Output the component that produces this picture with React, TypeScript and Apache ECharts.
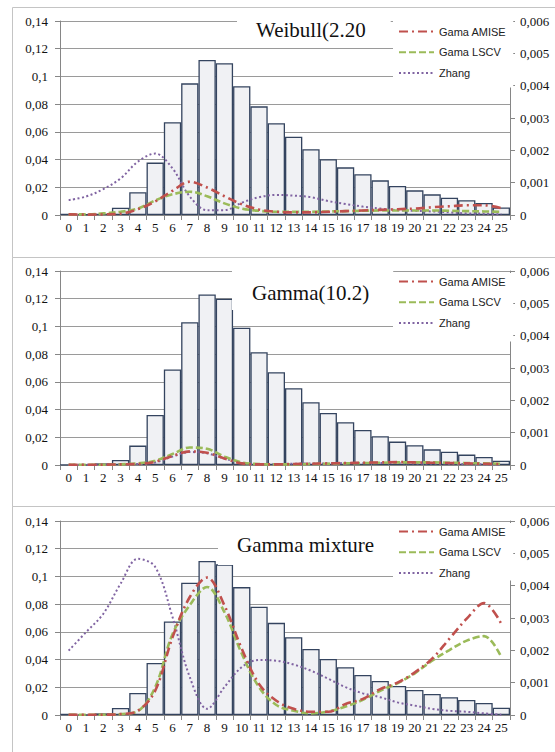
import React, { useEffect, useRef } from "react";
import * as echarts from "echarts";

const categories = ["0","1","2","3","4","5","6","7","8","9","10","11","12","13","14","15","16","17","18","19","20","21","22","23","24","25"];

const panelTitles = ["Weibull(2.20", "Gamma(10.2)", "Gamma mixture"];
const seriesNames = ["Gama AMISE", "Gama LSCV", "Zhang"];
const leftTicks = { min: 0, max: 0.14, interval: 0.02 };
const rightTicks = { min: 0, max: 0.006, interval: 0.001 };

// Panel 1: Weibull(2.20
const weibullBars = [0.0008, 0.0004, 0.0008, 0.0053, 0.0164, 0.0378, 0.0669, 0.095, 0.1119, 0.1095, 0.0929, 0.0784, 0.0662, 0.0565, 0.0474, 0.0402, 0.0344, 0.0294, 0.025, 0.0209, 0.0178, 0.0149, 0.0125, 0.0106, 0.0087, 0.0055];
const weibullAmise = [0.00002, 0.00001, 0.00002, 0.00004, 0.00018, 0.00042, 0.00075, 0.00103, 0.00085, 0.00058, 0.00033, 0.00017, 0.0001, 0.00008, 0.00008, 0.0001, 0.00012, 0.00014, 0.00016, 0.00018, 0.0002, 0.00024, 0.00027, 0.0003, 0.0003, 0.00021];
const weibullLscv = [0.00002, 0.00002, 0.00005, 0.0001, 0.0002, 0.00045, 0.00064, 0.00072, 0.00058, 0.00036, 0.0002, 0.00013, 0.0001, 0.0001, 0.0001, 0.00011, 0.00012, 0.00013, 0.00014, 0.00014, 0.00014, 0.00014, 0.00013, 0.00012, 0.00011, 0.0001];
const weibullZhang = [0.00046, 0.00057, 0.0008, 0.00113, 0.00165, 0.0019, 0.00144, 0.00057, 0.00015, 0.00015, 0.00038, 0.00055, 0.00062, 0.0006, 0.00055, 0.00043, 0.00034, 0.00026, 0.0002, 0.00015, 0.00013, 0.00011, 0.00008, 0.00005, 0.00004, 0.00002];

// Panel 2: Gamma(10.2)
const gammaBars = [0.0003, 0.0002, 0.0012, 0.0036, 0.014, 0.0361, 0.0689, 0.1031, 0.1231, 0.12, 0.099, 0.0814, 0.067, 0.0554, 0.0453, 0.0376, 0.0308, 0.0253, 0.0207, 0.0169, 0.0142, 0.0113, 0.0096, 0.0075, 0.0058, 0.0031];
const gammaAmise = [0.00001, 0.00001, 0.00001, 0.00002, 0.00003, 0.0001, 0.00028, 0.00042, 0.00038, 0.0002, 0.00005, 0.00002, 0.00002, 0.00003, 0.00004, 0.00005, 0.00006, 0.00007, 0.00008, 0.00009, 0.00008, 0.00007, 0.00006, 0.00005, 0.00004, 0.00003];
const gammaLscv = [0.00001, 0.00001, 0.00001, 0.00002, 0.00005, 0.00013, 0.00034, 0.00054, 0.0005, 0.00026, 0.00008, 0.00003, 0.00002, 0.00002, 0.00003, 0.00004, 0.00005, 0.00006, 0.00007, 0.00008, 0.00008, 0.00008, 0.00007, 0.00006, 0.00005, 0.00004];
const gammaZhang = [0.00001, 0.00001, 0.00001, 0.00002, 0.00003, 0.00008, 0.00026, 0.0004, 0.00036, 0.0002, 0.00006, 0.00003, 0.00003, 0.00004, 0.00005, 0.00005, 0.00006, 0.00006, 0.00006, 0.00006, 0.00005, 0.00005, 0.00004, 0.00003, 0.00002, 0.00001];

// Panel 3: Gamma mixture
const mixtureBars = [0.0007, 0.0003, 0.0012, 0.0051, 0.0159, 0.0376, 0.0675, 0.0954, 0.1111, 0.1087, 0.0923, 0.0781, 0.0665, 0.0561, 0.0477, 0.0405, 0.0345, 0.0289, 0.0246, 0.021, 0.0181, 0.0152, 0.0128, 0.0108, 0.0087, 0.0053];
const mixtureAmise = [0.00001, 0.00001, 0.00001, 0.00003, 0.00013, 0.00075, 0.0024, 0.00365, 0.00425, 0.00339, 0.00205, 0.00096, 0.00044, 0.00019, 0.0001, 0.0001, 0.00034, 0.0005, 0.0008, 0.001, 0.00132, 0.00174, 0.00236, 0.00298, 0.00346, 0.00282];
const mixtureLscv = [0.00001, 0.00001, 0.00001, 0.00003, 0.00012, 0.00086, 0.0025, 0.0034, 0.00396, 0.00318, 0.0019, 0.00086, 0.00031, 0.00013, 0.00005, 0.00011, 0.00026, 0.00047, 0.00075, 0.00098, 0.00129, 0.00168, 0.00201, 0.0023, 0.00244, 0.00179];
const mixtureZhang = [0.00199, 0.00256, 0.00313, 0.00406, 0.00483, 0.00458, 0.00303, 0.00117, 0.00019, 0.00086, 0.00148, 0.0017, 0.00168, 0.00156, 0.00137, 0.00112, 0.00086, 0.00067, 0.00055, 0.00039, 0.00029, 0.00019, 0.00013, 0.0001, 0.00005, 0.00001];

const panels = [
  { bars: weibullBars, lines: [weibullAmise, weibullLscv, weibullZhang] },
  { bars: gammaBars, lines: [gammaAmise, gammaLscv, gammaZhang] },
  { bars: mixtureBars, lines: [mixtureAmise, mixtureLscv, mixtureZhang] },
];

const fmt = (v: number) => (v === 0 ? "0" : String(parseFloat(v.toFixed(4))).replace(".", ","));

export default function App() {
  const ref = useRef<HTMLDivElement>(null);
  useEffect(() => {
    if (!ref.current) return;
    const chart = echarts.init(ref.current, undefined, { renderer: "svg" });
    const W = 555;
    const panelStep = 250;
    const gridTop = 21;
    const axisGrey = "#868686";
    const labelFont = { fontFamily: "Liberation Serif", fontSize: 13, color: "#111" };

    const lineStyles = [
      { color: "#c0504d", width: 2.6, type: [9, 4, 2, 4] },
      { color: "#9bbb59", width: 2.6, type: [7, 3] },
      { color: "#8064a2", width: 2, type: [2, 2.5] },
    ];

    const titlePos = [
      { left: 237, top: 12, padding: [7, 25, 3, 19] },
      { left: 232, top: 265, padding: [17, 24, 6, 20] },
      { left: 218, top: 527, padding: [7, 19, 9, 19] },
    ];
    const legendPos = [
      { top: 14, padding: [12, 7, 9, 5] },
      { top: 273, padding: [3, 7, 13, 5] },
      { top: 523, padding: [3, 7, 2, 5] },
    ];

    const grids: any[] = [];
    const xAxes: any[] = [];
    const yAxes: any[] = [];
    const series: any[] = [];
    const titles: any[] = [];
    const legends: any[] = [];

    panels.forEach((p, i) => {
      grids.push({ left: 60, width: 450, top: gridTop + panelStep * i, height: 194, containLabel: false });
      xAxes.push({
        type: "category",
        gridIndex: i,
        data: categories,
        boundaryGap: true,
        axisLine: { show: true, lineStyle: { color: axisGrey, width: 1 } },
        axisTick: { show: true, length: 5, interval: 0, alignWithLabel: false, lineStyle: { color: axisGrey } },
        axisLabel: { interval: 0, margin: 6, ...labelFont },
        splitLine: { show: false },
      });
      yAxes.push({
        type: "value",
        gridIndex: i,
        position: "left",
        ...leftTicks,
        axisLine: { show: true, lineStyle: { color: axisGrey, width: 1 } },
        axisTick: { show: true, length: 5, lineStyle: { color: axisGrey } },
        axisLabel: { margin: 12, formatter: fmt, ...labelFont },
        splitLine: { show: true, lineStyle: { color: "#9a9a9a", width: 1 } },
      });
      yAxes.push({
        type: "value",
        gridIndex: i,
        position: "right",
        ...rightTicks,
        axisLine: { show: true, lineStyle: { color: axisGrey, width: 1 } },
        axisTick: { show: true, length: 5, lineStyle: { color: axisGrey } },
        axisLabel: { margin: 10, formatter: fmt, ...labelFont },
        splitLine: { show: false },
      });
      series.push({
        type: "bar",
        name: "hist" + i,
        xAxisIndex: i,
        yAxisIndex: 2 * i,
        data: p.bars,
        barCategoryGap: 0,
        itemStyle: { color: "#f0f1f4", borderColor: "#34445f", borderWidth: 1.3 },
        z: 2,
      });
      p.lines.forEach((d, k) => {
        series.push({
          type: "line",
          name: seriesNames[k],
          xAxisIndex: i,
          yAxisIndex: 2 * i + 1,
          data: d,
          symbol: "none",
          showSymbol: false,
          smooth: 0.35,
          lineStyle: lineStyles[k],
          itemStyle: { color: lineStyles[k].color },
          z: 3 + (2 - k),
        });
      });
      titles.push({
        text: panelTitles[i],
        left: titlePos[i].left,
        top: titlePos[i].top,
        padding: titlePos[i].padding,
        backgroundColor: "#ffffff",
        textStyle: { fontFamily: "Liberation Serif", fontSize: 21, lineHeight: 22, fontWeight: "normal", color: "#111" },
      });
      legends.push({
        data: seriesNames,
        orient: "vertical",
        left: 393,
        top: legendPos[i].top,
        padding: legendPos[i].padding,
        backgroundColor: "#ffffff",
        itemWidth: 35,
        itemHeight: 14,
        itemGap: 9.5,
        selectedMode: false,
        itemStyle: { color: "rgba(0,0,0,0)", borderColor: "rgba(0,0,0,0)", borderWidth: 0, opacity: 0 },
        textStyle: { fontFamily: "Liberation Sans", fontSize: 11, color: "#222" },
      });
    });

    const frameTops = [7, 257, 506];
    const graphics = frameTops.map((t, i) => ({
      type: "rect",
      shape: { x: 12.5, y: t + 0.5, width: W + 20, height: (i < 2 ? frameTops[i + 1] - t : 260) },
      style: { fill: "none", stroke: "#c4c4c4", lineWidth: 1 },
      silent: true,
      z: 0,
    }));

    chart.setOption({
      animation: false,
      backgroundColor: "#ffffff",
      title: titles,
      legend: legends,
      grid: grids,
      xAxis: xAxes,
      yAxis: yAxes,
      series,
      graphic: graphics,
    });
    return () => chart.dispose();
  }, []);
  return <div ref={ref} style={{ position: "fixed", left: 0, top: 0, width: 555, height: 752 }} />;
}
